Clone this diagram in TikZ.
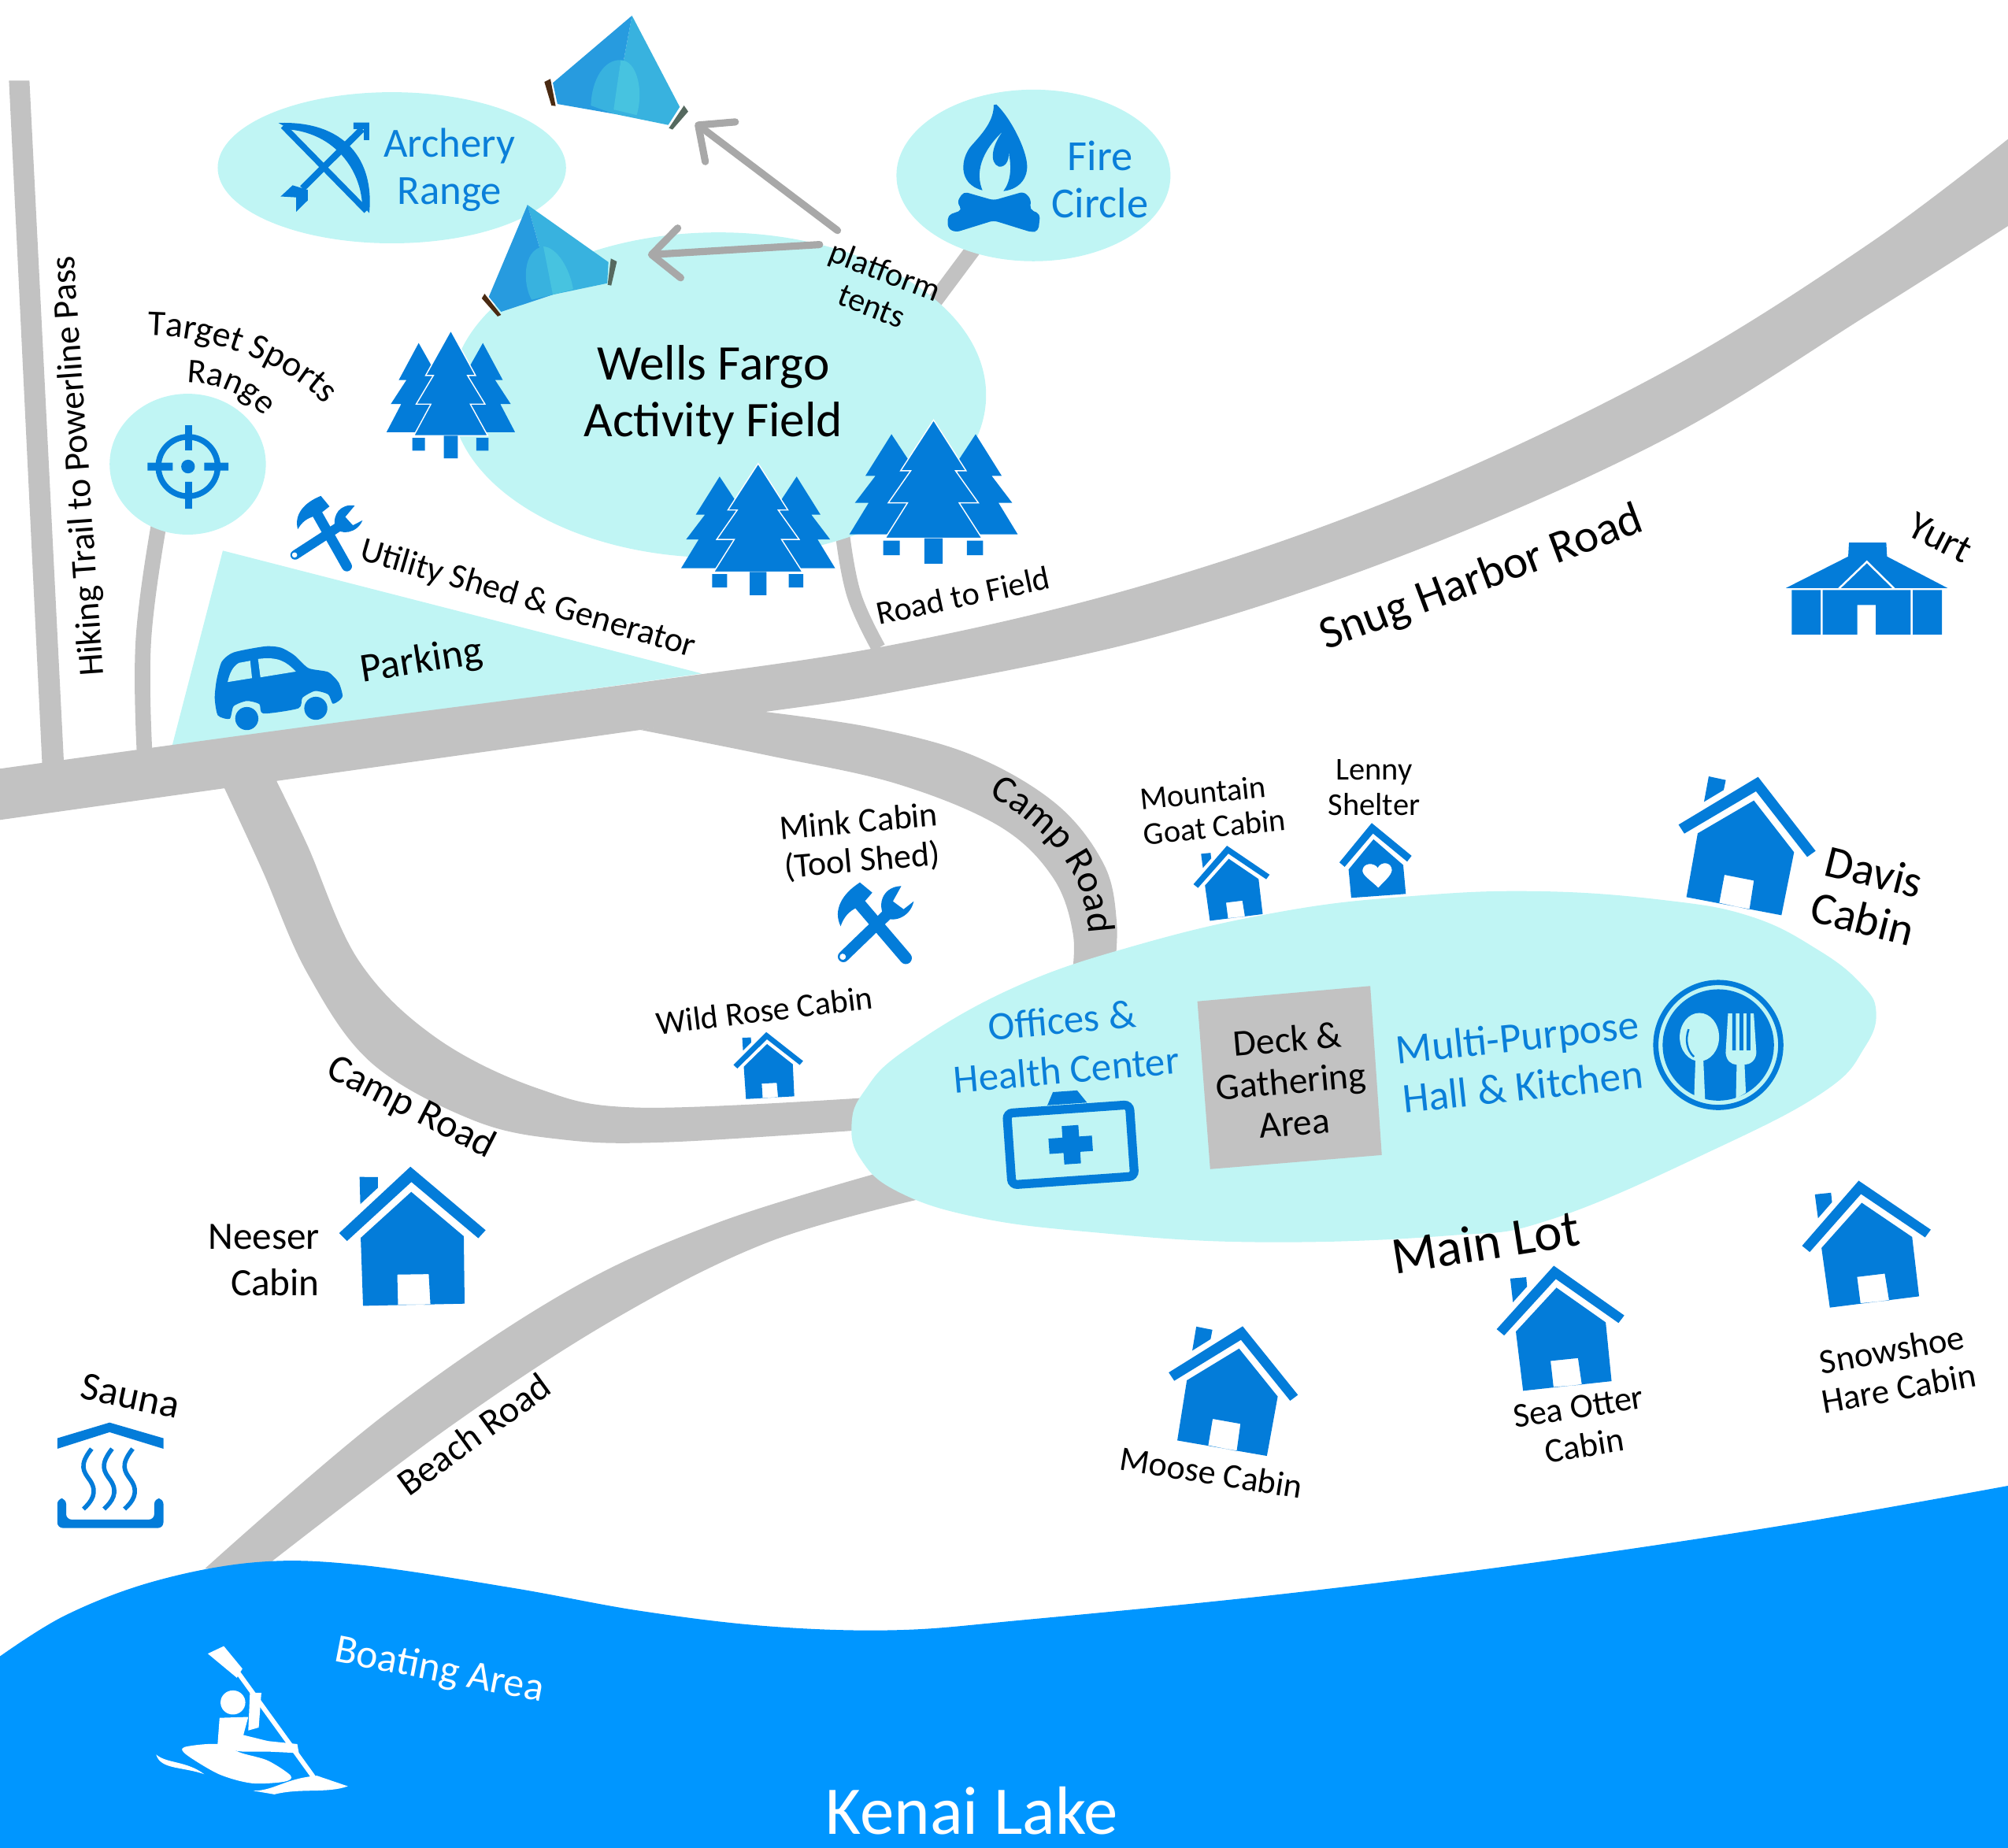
\documentclass[tikz,border=0pt]{standalone}
\usepackage{fontspec}
\setmainfont{Carlito}
\usetikzlibrary{arrows.meta,decorations.text}
\definecolor{iconblue}{HTML}{037CD9}
\definecolor{textblue}{HTML}{0A7FD9}
\definecolor{pale}{HTML}{C0F5F4}
\definecolor{roadgray}{HTML}{C2C2C2}
\definecolor{lake}{HTML}{0096FF}
\definecolor{arrowgray}{HTML}{A8A8A8}
\definecolor{tentA}{HTML}{279BDF}
\definecolor{tentB}{HTML}{38B2DF}
\definecolor{tentC}{HTML}{47C3E0}
\definecolor{poleA}{HTML}{4A2A12}
\definecolor{poleB}{HTML}{55695F}
\newcommand\fsz[2]{\fontsize{#1}{#2}\selectfont}
\tikzset{
 lab/.style={inner sep=0pt,align=center,text=black},
 bluelab/.style={inner sep=0pt,align=center,text=textblue},
 whitelab/.style={inner sep=0pt,align=center,text=white},
 road/.style={fill=roadgray,draw=none},
 roadline/.style={draw=roadgray,line cap=butt},
 zone/.style={fill=pale,draw=none},
 icon/.style={fill=iconblue,draw=none},
 barb/.style={draw=arrowgray,line width=2.6pt,line cap=round,-{Straight Barb[length=10pt,width=18pt,line width=2.6pt,round]}},
}
% cabin: x y rotation scale
\newcommand\hut[4]{\begin{scope}[shift={(#1,#2)},rotate=#3,scale=#4*0.205,shift={(-500,-370)}]
 \fill[icon] (245,292)--(548,110)--(767,392)--(735,415)--(540,165)--(267,326)--cycle;
 \fill[icon] (360,108)--(425,122)--(417,160)--(342,205)--cycle;
 \fill[icon,even odd rule] (532,200)--(685,397)--(637,637)--(275,568)--(318,325)--cycle
   (420,483)--(532,505)--(515,615)--(400,590)--cycle;
\end{scope}}
% trees: x y xscale yscale (x,y = apex)
\newcommand\pines[4]{\begin{scope}[shift={(#1,#2)},xscale=#3,yscale=#4,shift={(-722,-1095)}]
 \fill[icon] (630,1137)--(668,1215)--(680,1433)--(538,1433)--(580,1340)--(550,1340)--(595,1260)--(573,1260)--cycle;
 \fill[icon] (814,1137)--(776,1215)--(764,1433)--(906,1433)--(864,1340)--(894,1340)--(849,1260)--(871,1260)--cycle;
 \filldraw[fill=iconblue,draw=white,line width=.4pt] (722,1095)--(793,1245)--(770,1245)--(820,1340)--(778,1340)--(828,1445)--(616,1445)--(665,1340)--(623,1340)--(672,1245)--(650,1245)--cycle;
 \fill[icon] (702,1445) rectangle (742,1520) (612,1452) rectangle (648,1495) (795,1452) rectangle (830,1495);
\end{scope}}
% tools icon: centre x y rotation scale
\newcommand\tools[4]{\begin{scope}[shift={(#1,#2)},rotate=#3,scale=#4*0.205,shift={(-215,-205)}]
 \draw[iconblue,line width=#4*3.7pt,line cap=round] (190,130)--(302,328);
 \draw[iconblue,line width=#4*3.4pt,line cap=round] (105,285)--(270,178);
 \fill[white] (103,285) circle [radius=10];
 \fill[icon] (203,60)--(236,100)--(195,132)--(170,140) .. controls (140,150) and (125,170) .. (115,187) .. controls (100,130) and (140,85) .. cycle;
 \fill[icon] (332,97) .. controls (280,88) and (245,130) .. (258,180) .. controls (275,210) and (340,205) .. (362,153) -- (325,172) -- (296,140) -- cycle;
\end{scope}}
\begin{document}
\begin{tikzpicture}[x=0.0162628cm,y=-0.0162628cm]
\useasboundingbox (0,0) rectangle (1568,1442.6);
\begin{scope}
\clip (0,0) rectangle (1568,1442.6);
% ---------- roads under everything
\fill[road] (7,63)--(23,63)--(50,598)--(33,598)--cycle;
\draw[roadline,line width=5.6pt] plot[smooth,tension=.7] coordinates {(124,410)(112,500)(113,590)};
\draw[roadline,line width=5.6pt] (762,192)--(730,235);
\draw[roadline,line width=5.2pt] plot[smooth,tension=.7] coordinates {(658,418)(667,465)(686,506)};
% parking
\fill[zone] (174,430)--(548,526)--(134,584)--cycle;
% Snug Harbor Road
\fill[road] plot[smooth,tension=.6] coordinates {(-5,601)(250,566)(500,533)(700,503)(900,455)(1100,385)(1300,290)(1460,190)(1575,103)}
 -- plot[smooth,tension=.6] coordinates {(1575,172)(1460,245)(1300,343)(1100,432)(900,498)(700,540)(590,557)(500,570)(215,610)(-5,641)} -- cycle;
% Camp Road east
\fill[road] plot[smooth,tension=.6] coordinates {(590,555)(680,568)(760,590)(825,628)(862,675)(872,720)(870,760)}
 -- plot[smooth,tension=.6] coordinates {(836,770)(838,730)(822,685)(780,645)(700,612)(600,590)(500,570)} -- cycle;
% Camp Road west
\fill[road] plot[smooth,tension=.6] coordinates {(215,608)(240,660)(280,750)(340,810)(420,850)(500,865)(680,857)}
 -- plot[smooth,tension=.6] coordinates {(680,882)(520,892)(440,890)(370,875)(290,830)(240,760)(205,680)(175,615)} -- cycle;
% Beach Road
\fill[road] plot[smooth,tension=.6] coordinates {(700,912)(560,955)(440,1010)(300,1105)(160,1225)}
 -- plot[smooth,tension=.6] coordinates {(205,1225)(350,1115)(480,1030)(600,970)(720,936)} -- cycle;
% ---------- zones
\fill[zone] (306,131) ellipse [x radius=136,y radius=59];
\fill[zone] (807,137) ellipse [x radius=107,y radius=67];
\fill[zone] (146.6,362.5) ellipse [x radius=61,y radius=55];
\fill[zone] (561,308.5) ellipse [x radius=209,y radius=127];
\fill[zone] plot[smooth cycle,tension=.7] coordinates {(665,878)(675,852)(707,820)(790,772)(888,738)(1000,712)(1100,700)(1200,696)(1300,703)(1368,716)(1420,742)(1453,768)(1465,790)(1456,818)(1425,852)(1340,897)(1212,952)(1130,965)(980,970)(850,962)(760,950)(700,930)(672,905)};
% ---------- lake
\fill[lake] plot[smooth,tension=.6] coordinates {(-5,1297)(50,1262)(120,1235)(200,1220)(280,1222)(400,1240)(500,1258)(600,1270)(700,1273)(800,1265)(1000,1245)(1200,1220)(1400,1190)(1575,1159)} -- (1575,1450) -- (-5,1450) -- cycle;
\end{scope}
% ---------- deck
\fill[roadgray] (935,782)--(1070,770)--(1079,902)--(945,913)--cycle;
% ---------- tents
\fill[tentB] (493.5,12.2)--(530.8,83.5)--(521.8,97.6)--(479.2,88.9)--cycle;
\fill[tentA] (493.5,12.2)--(431.7,64.7)--(435.3,81.2)--(479.2,88.9)--cycle;
\fill[tentB] (461.4,82.4) .. controls (462,62) and (472,46) .. (484.7,47) -- (479.2,88.9)--cycle;
\fill[tentC] (484.7,47) .. controls (497,47) and (503,70) .. (497.2,89.9) -- (479.2,85.5) -- cycle;
\fill[poleA] (425.1,64)--(429.8,61.6)--(433.9,82.8)--(430.6,82.4)--cycle;
\fill[poleB] (534.1,82.4)--(537.4,87.1)--(525.1,101.2)--(522.3,100)--cycle;
\fill[tentB] (411.9,160)--(475.1,204.7)--(474.2,221.2)--(431.7,230.1)--cycle;
\fill[tentA] (411.9,160)--(381.7,231.8)--(391.3,243.5)--(431.7,230.1)--cycle;
\fill[tentB] (415.2,234.1) .. controls (408,222) and (408,195) .. (424.3,192.5) -- (431.7,230.1)--cycle;
\fill[tentC] (424.3,192.5) .. controls (435,193) and (445,210) .. (447.6,225.9) -- (431.7,230.1)--cycle;
\fill[poleA] (378.4,229.4)--(391.3,245.9)--(388.6,247.1)--(376.2,233)--cycle;
\fill[poleB] (477,201.9)--(481.7,204.2)--(477.3,223)--(474.5,222.4)--cycle;
% ---------- trees
\pines{352}{258}{.2725}{.235}
\pines{592}{362}{.327}{.242}
\pines{729}{328}{.357}{.264}
% ---------- bow
\begin{scope}[shift={(153.8,0)},xscale=.2746,yscale=.2353]
 \fill[icon] (232,408) .. controls (420,400) and (505,530) .. (490,707) -- (470,680) .. controls (465,560) and (390,445) .. (265,430) -- cycle;
 \draw[iconblue,line width=2.2pt] (245,418)--(482,700);
 \draw[iconblue,line width=2.4pt] (300,625)--(470,428);
 \fill[icon] (445,407)--(490,407)--(490,465)--(475,465)--(475,428)--(445,428)--cycle;
 \fill[icon] (238,652)--(272,615)--(315,630)--(315,665)--(282,703)--(282,655)--cycle;
\end{scope}
% ---------- fire
\begin{scope}[shift={(719.6,73.8)},scale=.205]
 \fill[icon] (275,40) .. controls (275,100) and (235,145) .. (190,195) .. controls (150,240) and (135,340) .. (232,365) .. controls (205,300) and (225,220) .. (310,140) .. controls (270,190) and (255,260) .. (295,275) .. controls (325,278) and (338,240) .. (330,210) .. controls (345,280) and (340,330) .. (312,368) .. controls (380,360) and (405,310) .. (402,270) .. controls (400,210) and (340,90) .. (285,38) -- cycle;
 \fill[icon,rounded corners=1.5pt] (160,370)--(275,403)--(390,370)--(418,400)--(412,438)--(452,455)--(445,520)--(420,525)--(275,480)--(130,525)--(100,510)--(100,460)--(155,440)--(135,410)--cycle;
\end{scope}
% ---------- target
\begin{scope}[shift={(80,313.7)},scale=.205]
 \draw[iconblue,line width=2.1pt] (326,247) circle [radius=113];
 \fill[icon] (326,247) circle [radius=26];
 \fill[icon] (315,90) rectangle (341,185) (315,305) rectangle (341,408) (172,232) rectangle (268,262) (388,232) rectangle (480,262);
\end{scope}
% ---------- tools
\tools{253}{417}{0}{1}
\tools{681}{723}{11}{1.18}
% ---------- car
\begin{scope}[shift={(147.6,485.9)},scale=.205]
 \fill[icon] plot[smooth cycle,tension=.4] coordinates {(155,368)(110,355)(98,290)(105,220)(125,150)(170,115)(290,92)(350,97)(400,125)(455,175)(530,190)(570,230)(585,280)(570,300)(547,310)(530,275)(480,262)(432,288)(417,328)(283,348)(268,312)(220,300)(170,320)};
 \fill[pale] (147,228)--(240,213)--(233,147)--(190,155) .. controls (165,170) and (155,195) .. cycle;
 \fill[pale] (272,210)--(407,188) .. controls (370,150) and (340,130) .. (263,140) --cycle;
 \fill[icon] (220,367) circle [radius=44] (483,328) circle [radius=44];
\end{scope}
% ---------- cabins
\hut{1363}{660}{0}{1}
\hut{322}{968}{12}{1.05}
\hut{962}{1086}{1}{.94}
\hut{1219}{1038}{17}{.92}
\hut{1458}{972}{18}{.93}
\hut{962}{690}{18}{.55}
\hut{600}{833}{14}{.5}
% ---------- Lenny
\begin{scope}[shift={(1033.2,633.5)},scale=.205]
 \fill[icon] (185,45)--(337,170)--(320,192)--(190,85)--(82,212)--(62,195)--cycle;
 \fill[icon,even odd rule] (192,107)--(305,205)--(315,315)--(107,330)--(97,222)--cycle
 (210,292) .. controls (180,262) and (148,245) .. (150,225) .. controls (152,195) and (195,195) .. (208,215) .. controls (220,190) and (262,192) .. (262,225) .. controls (260,245) and (235,265) .. cycle;
\end{scope}
% ---------- yurt
\begin{scope}[shift={(1353,381.3)},scale=.205]
 \fill[icon] (443,207)--(585,207)--(588,260)--(818,380)--(203,380)--(440,260)--cycle;
 \draw[white,line width=.7pt] (405,382)--(511,280)--(615,382);
 \fill[icon] (225,388) rectangle (335,557) (686,388) rectangle (797,557);
 \fill[icon] (343,388)--(678,388)--(678,557)--(545,557)--(545,445)--(475,445)--(475,557)--(343,557)--cycle;
\end{scope}
% ---------- sauna
\begin{scope}[shift={(30.75,1045.5)},xscale=.2549,yscale=.2353]
 \fill[icon] (55,330)--(215,278)--(380,330)--(380,365)--(215,310)--(55,365)--cycle;
 \fill[icon,rounded corners=2pt] (55,530)--(82,530)--(82,600)--(352,600)--(352,530)--(380,530)--(380,628)--(55,628)--cycle;
 \foreach \dx in {0,63,126}{
  \draw[iconblue,line width=1.6pt] (160+\dx,365) .. controls (120+\dx,420) and (135+\dx,440) .. (155+\dx,470) .. controls (180+\dx,510) and (160+\dx,540) .. (135+\dx,565);}
\end{scope}
% ---------- medkit
\begin{scope}[shift={(836,893)},rotate=4]
 \draw[iconblue,line width=3.2pt,rounded corners=2pt] (-48,-27) rectangle (48,29);
 \fill[icon] (-16,-31)--(-11,-41)--(8,-41)--(15,-31)--cycle;
 \fill[icon] (-6,-14) rectangle (7,16) (-17,-5) rectangle (17,7);
\end{scope}
% ---------- plate
\begin{scope}[shift={(1260.8,584.4)},scale=.205]
 \draw[iconblue,line width=1.9pt] (395,1130) circle [radius=238];
 \fill[icon] (395,1130) circle [radius=212];
 \fill[pale] (323,1100) ellipse [x radius=75,y radius=92];
 \fill[pale] (308,1185)--(338,1185)--(345,1345)--(303,1325)--cycle;
 \draw[iconblue,line width=.7pt] (282,1070) .. controls (268,1110) and (275,1150) .. (302,1175);
 \fill[pale] (432,1010)--(530,1010)--(540,1160) .. controls (538,1190) and (515,1205) .. (495,1205)--(500,1312)--(462,1335)--(465,1205) .. controls (445,1205) and (425,1190) .. (423,1160)--cycle;
 \fill[icon] (448,1005) rectangle (462,1150) (476,1005) rectangle (490,1150) (503,1005) rectangle (517,1150);
\end{scope}
% ---------- kayak
\begin{scope}[shift={(30.75,1045.5)},xscale=.2549,yscale=.2353]
 \fill[white] (593,1207) ellipse [x radius=38,y radius=40];
 \fill[white] (516,1045)--(565,1020)--(622,1095)--(605,1125)--cycle;
 \draw[white,line width=1.7pt] (610,1110)--(840,1455);
 \fill[white] (645,1175)--(680,1175)--(672,1290)--(640,1300)--cycle;
 \fill[white] (552,1258)--(640,1255)--(625,1315)--(700,1335)--(790,1345)--(795,1375)--(700,1370)--(622,1370)--(545,1360)--cycle;
 \fill[white] plot[smooth cycle,tension=.5] coordinates {(445,1355)(545,1345)(620,1375)(700,1400)(770,1450)(750,1470)(650,1475)(550,1445)(450,1380)};
 \fill[white] (358,1380) .. controls (390,1410) and (450,1400) .. (505,1445) .. controls (440,1420) and (370,1430) .. cycle;
 \fill[white] (655,1500) .. controls (720,1500) and (750,1460) .. (850,1450) -- (945,1485) .. controls (880,1510) and (800,1490) .. (720,1512) -- cycle;
\end{scope}
% ---------- labels
\node[bluelab,font=\fsz{15}{17}] (archery) at (351,132.5) {Archery\\Range};
\node[bluelab,font=\fsz{15.5}{17}] (fire) at (859,140) {Fire\\Circle};
\node[lab,font=\fsz{18}{20.6}] (wells) at (557,308.5) {Wells Fargo\\Activity Field};
\node[lab,rotate=-21,font=\fsz{12}{13.5}] (platform) at (686,225) {platform\\tents};
\path[decorate,decoration={text along path,text align=center,text={|\fsz{13}{14}|Target Sports}}] (112,262) .. controls (170,262) and (225,285) .. (256,318);
\path[decorate,decoration={text along path,text align=center,text={|\fsz{12.5}{13}|Range}}] (146,299) .. controls (172,299) and (192,309) .. (206,325);
\node[lab,rotate=94,font=\fsz{12.9}{13}] (hiking) at (62,364) {Hiking Trail to Powerline Pass};
\node[lab,rotate=-16.3,font=\fsz{12.6}{13}] (utility) at (412,468) {Utility Shed \& Generator};
\node[lab,rotate=9,font=\fsz{14.8}{15}] (parking) at (329,517) {Parking};
\node[lab,rotate=12,font=\fsz{12}{13}] (rfield) at (752,465) {Road to Field};
\node[lab,rotate=20.5,font=\fsz{16.8}{17}] (snug) at (1157,452) {Snug Harbor Road};
\node[lab,rotate=-27,font=\fsz{14.5}{15}] (yurt) at (1515,420) {Yurt};
\path[decorate,decoration={text along path,text align=center,text={|\fsz{14}{15}|Camp Road}}] (770,620) .. controls (815,645) and (850,680) .. (850,732);
\node[lab,rotate=5,font=\fsz{12.5}{14}] (mink) at (672,658) {Mink Cabin\\(Tool Shed)};
\node[lab,rotate=6,align=left,font=\fsz{11.5}{12.7}] (goat) at (947,632) {Mountain\\Goat Cabin};
\node[lab,font=\fsz{11.5}{12.7}] (lenny) at (1073,615) {Lenny\\Shelter};
\node[lab,rotate=-14,font=\fsz{16.5}{17.5}] (davis) at (1459,699) {Davis\\Cabin};
\node[lab,rotate=7,font=\fsz{12}{13}] (wrose) at (597,789) {Wild Rose Cabin};
\node[bluelab,rotate=5,font=\fsz{14.5}{18}] (offices) at (831,816) {Offices \&\\Health Center};
\node[lab,rotate=5,font=\fsz{13.5}{15.2}] (deck) at (1008,844) {Deck \&\\Gathering\\Area};
\node[bluelab,rotate=6,font=\fsz{15.2}{18}] (hall) at (1187,829) {Multi-Purpose\\Hall \& Kitchen};
\node[lab,rotate=9,font=\fsz{19}{19}] (mainlot) at (1160,970) {Main Lot};
\node[lab,rotate=-27,font=\fsz{14.3}{15}] (campw) at (321,865) {Camp Road};
\node[lab,align=right,font=\fsz{14}{17}] (neeser) at (206,984) {Neeser\\Cabin};
\node[lab,rotate=-12,font=\fsz{14.5}{15}] (sauna) at (102,1090) {Sauna};
\node[lab,rotate=36,font=\fsz{13.6}{14}] (beach) at (370,1120) {Beach Road};
\node[lab,rotate=-9,font=\fsz{12.5}{13}] (moose) at (946,1150) {Moose Cabin};
\node[lab,rotate=9,font=\fsz{12.5}{14.2}] (seaotter) at (1235,1114) {Sea Otter\\Cabin};
\node[lab,rotate=10,font=\fsz{12.7}{14.2}] (hare) at (1480,1069) {Snowshoe\\Hare Cabin};
\node[whitelab,rotate=-11,font=\fsz{14.7}{15}] (boating) at (343,1305) {Boating Area};
\node[whitelab,font=\fsz{24.7}{25}] (kenai) at (759,1414) {Kenai Lake};
% ---------- arrows
\coordinate (tailA) at (654,180);
\coordinate (tipA) at (543,96);
\coordinate (tailB) at (640,191);
\coordinate (tipB) at (506,199);
\draw[barb] (tailA)--(tipA);
\draw[barb] (tailB)--(tipB);
\end{tikzpicture}
\end{document}
